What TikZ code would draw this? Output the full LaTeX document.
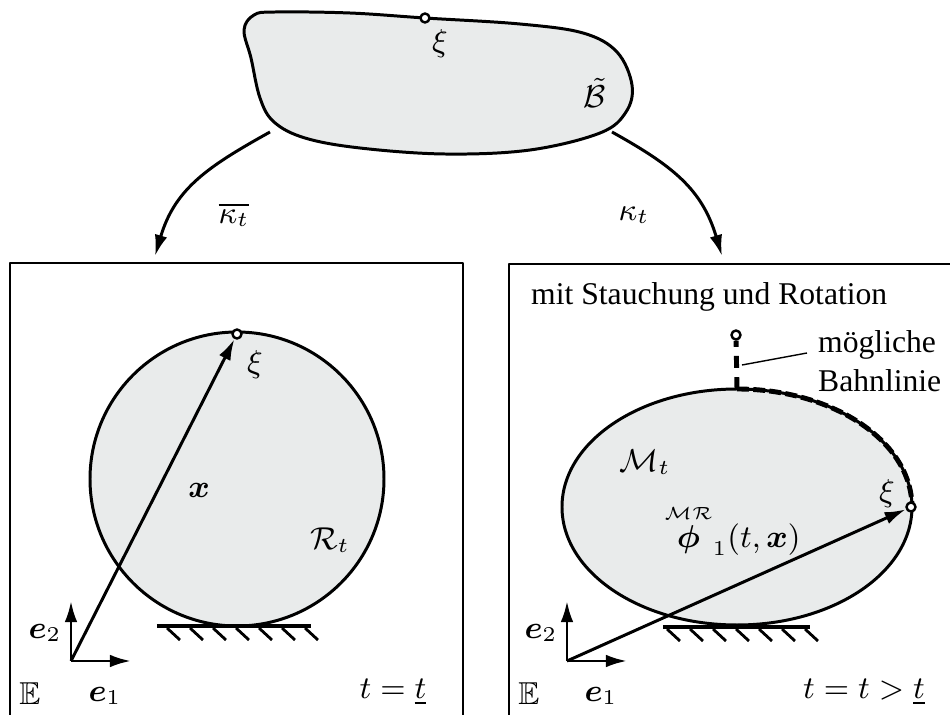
\documentclass[tikz,border=0pt]{standalone}
\usepackage[no-math]{fontspec}
\setmainfont{Liberation Serif}
\usepackage{amsmath}
\usepackage{amssymb}
\usetikzlibrary{arrows.meta}
\definecolor{bodyfill}{RGB}{233,235,235}

\begin{document}
\begin{tikzpicture}[x=0.01cm, y=-0.01cm, line join=round,
  every node/.style={font=\fontsize{9}{11}\selectfont, inner sep=1pt},
  body/.style={fill=bodyfill, draw, line width=0.85pt},
  frame/.style={draw, line width=0.85pt},
  vec/.style={-{Latex[length=6pt,width=3.6pt]}, line width=0.85pt},
  pt/.style={circle, draw, fill=white, line width=0.7pt, inner sep=0pt, minimum size=0.09cm},
  ground/.style={line width=1pt},
  trackline/.style={line width=1.4pt, dash pattern=on 3.4pt off 1.2pt}]

\useasboundingbox (0,0) rectangle (950,715);

% Reference body
\draw[body] plot[smooth cycle, tension=0.6] coordinates {(275,12) (350,13) (425,18) (520,24)
  (583,33) (617,52) (632,85) (626,112) (600,133) (530,150) (445,154) (360,148) (305,138)
  (274,122) (260,98) (251,58) (244,30) (254,15)};
\node[pt] (xi0) at (425,18) {};
\node (xi0lbl) at (440,44) {$\xi$};
\node (Blbl) at (595,93) {$\tilde{\mathcal{B}}$};

% Placement maps
\coordinate (kbarA) at (270,132);
\coordinate (kbarB) at (155,256);
\coordinate (kapA) at (612,132);
\coordinate (kapB) at (722,256);
\draw[vec] (kbarA) .. controls (209,166) and (175,188) .. (kbarB);
\draw[vec] (kapA) .. controls (673,166) and (702,189) .. (kapB);
\node (kbarlbl) at (234,215) {$\overline{\kappa_t}$};
\node (kaplbl) at (634,215) {$\kappa_t$};

% Left frame: reference configuration
\draw[frame] (10,263) rectangle (463,740);
\draw[body] (237,479) circle[radius=147];
\draw[ground] (157,626) -- (311,626);
\foreach \h in {0,...,6}{%
  \draw[line width=0.8pt] (167+23*\h,628) -- ++(13,12);
}
\coordinate (O1) at (71,661);
\node[pt] (xi1) at (237,334) {};
\draw[vec] (O1) -- (xi1);
\draw[vec] (O1) -- (71,601);
\draw[vec] (O1) -- (131,661);
\node (xi1lbl) at (255,365) {$\xi$};
\node (xlbl) at (199,490) {$\boldsymbol{x}$};
\node (Rlbl) at (330,540) {$\mathcal{R}_t$};
\node (e2a) at (45,633) {$\boldsymbol{e}_2$};
\node (e1a) at (105,696) {$\boldsymbol{e}_1$};
\node (Ea) at (30,694) {$\mathbb{E}$};
\node (ta) at (393,692) {$t=\underline{t}$};

% Right frame: current configuration
\draw[frame] (509,264) rectangle (970,740);
\node[anchor=west] (headlbl) at (527,297) {mit Stauchung und Rotation};
\draw[body] (737,507) ellipse[x radius=175, y radius=118];
\draw[ground] (663,627) -- (810,627);
\foreach \h in {0,...,6}{%
  \draw[line width=0.8pt] (667+23*\h,629) -- ++(13,12);
}
\coordinate (O2) at (567,661);
\coordinate (top2) at (737,389);
\node[pt] (xi2) at (911,507) {};
\node[pt] (xi3) at (736,335) {};

% Possible path line
\draw[trackline] (top2) arc[start angle=-90, end angle=-2, x radius=175, y radius=118];
\draw[trackline, dash pattern=on 3.4pt off 2.6pt] (top2) -- (xi3);
\coordinate (ptrA) at (742,365);
\coordinate (ptrB) at (807,353);
\draw[line width=0.4pt] (ptrA) -- (ptrB);
\node[anchor=west, align=left] (tracklbl) at (814,361) {mögliche\\Bahnlinie};

\draw[vec] (O2) -- (xi2);
\draw[vec] (O2) -- (567,601);
\draw[vec] (O2) -- (627,661);
\node (xi2lbl) at (887,494) {$\xi$};
\node (Mlbl) at (645,462) {$\mathcal{M}_t$};
\node[anchor=west] (philbl) at (660,530) {$\overset{\scriptscriptstyle\mathcal{MR}}{\boldsymbol{\phi}}_{1}(t,\boldsymbol{x})$};
\node (e2b) at (541,633) {$\boldsymbol{e}_2$};
\node (e1b) at (601,696) {$\boldsymbol{e}_1$};
\node (Eb) at (529,694) {$\mathbb{E}$};
\node (tb) at (864,692) {$t=t>\underline{t}$};

\end{tikzpicture}
\end{document}
